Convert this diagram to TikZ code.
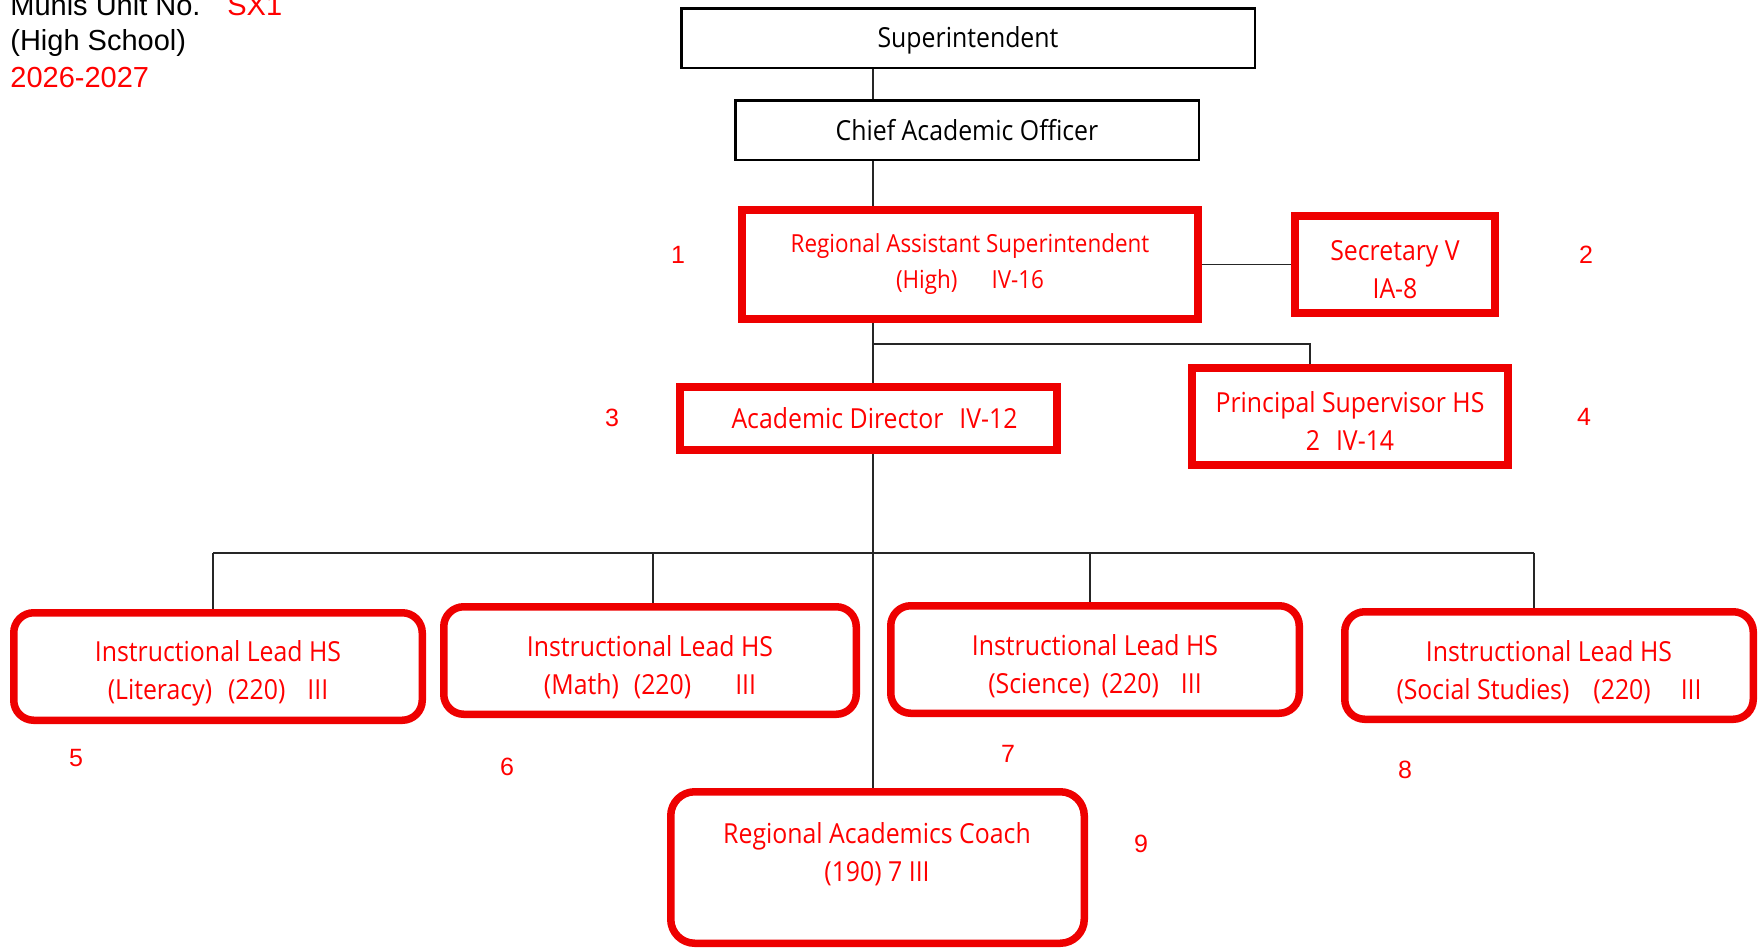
\documentclass[tikz,border=0pt]{standalone}
\usepackage{fontspec}
\setmainfont{Liberation Sans}
\newfontfamily\boxfont[FakeStretch=0.9]{Open Sans}
\definecolor{bred}{HTML}{EE0000}
\definecolor{tred}{HTML}{FF0000}
\newcommand{\lowerby}[1]{\rule{0pt}{#1}}
\begin{document}
\begin{tikzpicture}[x=0.5pt,y=-0.5pt,
  blackbox/.style={draw=black,line width=1.25pt,inner sep=0pt,font=\boxfont\fontsize{13.8}{19}\selectfont,align=center},
  redbox/.style={draw=bred,line width=4pt,inner sep=0pt,text=tred,font=\boxfont\fontsize{13.8}{19}\selectfont,align=center},
  roundbox/.style={redbox,line width=3.75pt,rounded corners=10pt},
  boxtext/.style={inner sep=0pt,text=tred,font=\boxfont\fontsize{13.8}{19}\selectfont,align=center},
  conn/.style={draw=black!85,line width=0.75pt},
  num/.style={text=tred,font=\fontsize{12.5}{15}\selectfont,inner sep=0pt},
  hdr/.style={font=\fontsize{14.5}{17}\selectfont,inner sep=0pt,anchor=base west}
]
\useasboundingbox (0,0) rectangle (1762,949);

% header
\node[hdr] (munis) at (10,15) {Munis Unit No.};
\node[hdr,text=tred] (sx) at (227,15) {SX1};
\node[hdr] (hs) at (10,50) {(High School)};
\node[hdr,text=tred] (yr) at (10,87) {2026-2027};

% boxes
\node[blackbox,minimum width=286.75pt,minimum height=29.75pt] (super) at (968,38) {\lowerby{12.6pt}Superintendent};
\node[blackbox,minimum width=231.75pt,minimum height=29.75pt] (cao) at (967,130) {Chief Academic Officer};
\node[redbox,minimum width=228pt,minimum height=54.5pt,font=\boxfont\fontsize{12.45}{18}\selectfont] (ras) at (970,264.5) {Regional Assistant Superintendent\\(High)\hspace{17pt}IV-16};
\node[redbox,minimum width=100pt,minimum height=48.5pt] (sec) at (1395,264.5) {\lowerby{15pt}Secretary V\\IA-8};
\node[redbox,minimum width=158pt,minimum height=48.5pt] (prin) at (1350,416.5) {\lowerby{15pt}Principal Supervisor HS\\2\hspace{8pt}IV-14};
\node[redbox,minimum width=188.5pt,minimum height=31.5pt] (ad) at (868.5,418.5) {\hspace*{6pt}Academic Director\hspace{8pt}IV-12};

\node[roundbox,minimum width=204.25pt,minimum height=53.75pt] (lit) at (218,666.5) {\lowerby{17.5pt}Instructional Lead HS\\(Literacy)\hspace{8pt}(220)\hspace{11pt}III};
\node[roundbox,minimum width=206.25pt,minimum height=53.75pt] (math) at (650,660.5) {\lowerby{17.5pt}Instructional Lead HS\\(Math)\hspace{7.5pt}(220)\hspace{22pt}III};
\node[roundbox,minimum width=204.25pt,minimum height=53.75pt] (sci) at (1095,659.5) {\lowerby{17pt}Instructional Lead HS\\(Science)\hspace{6pt}(220)\hspace{11pt}III};
\node[roundbox,minimum width=204.25pt,minimum height=53.75pt] (soc) at (1549,665.5) {\lowerby{17pt}Instructional Lead HS\\(Social Studies)\hspace{12pt}(220)\hspace{15pt}III};
\node[roundbox,minimum width=206.75pt,minimum height=75.75pt,rounded corners=12pt] (coach) at (877.5,867.5) {};
\node[boxtext] (coachtxt) at (877,854) {Regional Academics Coach\\(190) 7 III};

% connectors
\coordinate (spine) at (873,0);
\coordinate (pturn) at (1310,344);
\coordinate (b1) at (213,553);
\coordinate (b2) at (653,553);
\coordinate (b3) at (1090,553);
\coordinate (b4) at (1534,553);
\draw[conn] (super.south -| spine) -- (cao.north -| spine);
\draw[conn] (cao.south -| spine) -- (ras.north -| spine);
\draw[conn] (ras.east) -- (sec.west);
\draw[conn] (ras.south -| spine) -- (spine |- pturn) -- (pturn) -- (prin.north -| pturn);
\draw[conn] (ras.south -| spine) -- (ad.north -| spine);
\draw[conn] (ad.south -| spine) -- (coach.north -| spine);
\draw[conn] (b1) -- (b4);
\draw[conn] (b1) -- (lit.north -| b1);
\draw[conn] (b2) -- (math.north -| b2);
\draw[conn] (b3) -- (sci.north -| b3);
\draw[conn] (b4) -- (soc.north -| b4);

% numbers
\node[num] (n1) at (678,255) {1};
\node[num] (n2) at (1586,255) {2};
\node[num] (n3) at (612,418) {3};
\node[num] (n4) at (1584,417) {4};
\node[num] (n5) at (76,758) {5};
\node[num] (n6) at (507,767) {6};
\node[num] (n7) at (1008,754) {7};
\node[num] (n8) at (1405,770) {8};
\node[num] (n9) at (1141,844) {9};
\end{tikzpicture}
\end{document}
